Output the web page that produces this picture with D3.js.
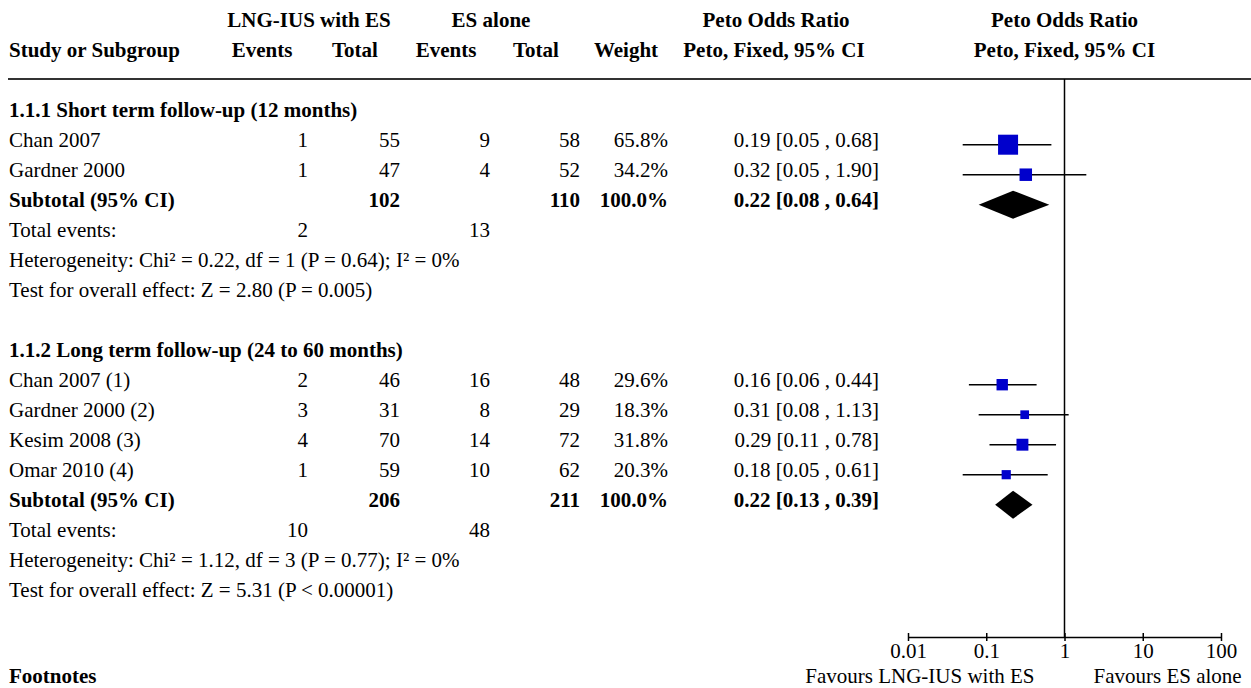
<!DOCTYPE html>
<html>
<head>
<meta charset="utf-8">
<script src="https://cdn.jsdelivr.net/npm/d3@7"></script>
<style>
  body { margin: 0; background: #fff; }
  svg text { font-family: "Liberation Serif", "Times New Roman", serif; font-size: 21px; fill: #000; }
  .b { font-weight: bold; }
</style>
</head>
<body>
<div id="chart"></div>
<script>
const width = 1251;
const height = 688;

const groupTitles = ["1.1.1 Short term follow-up (12 months)", "1.1.2 Long term follow-up (24 to 60 months)"];
const studyNames = [["Chan 2007", "Gardner 2000"], ["Chan 2007 (1)", "Gardner 2000 (2)", "Kesim 2008 (3)", "Omar 2010 (4)"]];
const lngEvents = [[1, 1], [2, 3, 4, 1]];
const lngTotal = [[55, 47], [46, 31, 70, 59]];
const esEvents = [[9, 4], [16, 8, 14, 10]];
const esTotal = [[58, 52], [48, 29, 72, 62]];
const weights = [[65.8, 34.2], [29.6, 18.3, 31.8, 20.3]];
const oddsRatio = [[0.19, 0.32], [0.16, 0.31, 0.29, 0.18]];
const ciLow = [[0.05, 0.05], [0.06, 0.08, 0.11, 0.05]];
const ciHigh = [[0.68, 1.90], [0.44, 1.13, 0.78, 0.61]];
const subLngTotal = [102, 206];
const subEsTotal = [110, 211];
const subOR = [0.22, 0.22];
const subLow = [0.08, 0.13];
const subHigh = [0.64, 0.39];
const totalLngEvents = [2, 10];
const totalEsEvents = [13, 48];
const heterogeneity = ["Heterogeneity: Chi² = 0.22, df = 1 (P = 0.64); I² = 0%", "Heterogeneity: Chi² = 1.12, df = 3 (P = 0.77); I² = 0%"];
const overallEffect = ["Test for overall effect: Z = 2.80 (P = 0.005)", "Test for overall effect: Z = 5.31 (P < 0.00001)"];
const axisTicks = [0.01, 0.1, 1, 10, 100];

const svg = d3.select("#chart").append("svg")
    .attr("width", width)
    .attr("height", height);

const x = d3.scaleLog().domain([0.01, 100]).range([908, 1221]);
const row = d3.scaleLinear().domain([0, 1]).range([114.7, 144.7]);
const boxSize = d3.scaleLinear().domain([0, 100]).range([4.35, 28.15]);
const axisY = 637;

// column right edges for the numbers
const col = {events1: 308, total1: 400, events2: 490, total2: 580, weight: 668, ci: 879};

function txt(s, xPos, y, anchor, bold) {
    svg.append("text")
        .attr("x", xPos)
        .attr("y", y)
        .attr("text-anchor", anchor || "start")
        .attr("class", bold ? "b" : null)
        .text(s);
}

// headers
txt("LNG-IUS with ES", 309, 27, "middle", true);
txt("ES alone", 491, 27, "middle", true);
txt("Peto Odds Ratio", 776, 27, "middle", true);
txt("Peto Odds Ratio", x(1), 27, "middle", true);
txt("Study or Subgroup", 9, 57, "start", true);
[["Events", 262], ["Total", 355], ["Events", 446], ["Total", 536], ["Weight", 626],
 ["Peto, Fixed, 95% CI", 774], ["Peto, Fixed, 95% CI", x(1)]].forEach(h => txt(h[0], h[1], 57, "middle", true));

svg.append("line")
    .attr("x1", 8).attr("x2", width)
    .attr("y1", 79).attr("y2", 79)
    .style("stroke", "#333").style("stroke-width", 2);

svg.append("line")
    .attr("x1", x(1)).attr("x2", x(1))
    .attr("y1", 79).attr("y2", axisY)
    .style("stroke", "#000").style("stroke-width", 1.5);

const fmtCI = (o, l, h) => `${o.toFixed(2)} [${l.toFixed(2)} , ${h.toFixed(2)}]`;

let r = 0;
groupTitles.forEach((title, g) => {
    txt(title, 9, row(r) + 2, "start", true);
    r++;
    studyNames[g].forEach((name, i) => {
        const y = row(r);
        const b = y + 2;
        txt(name, 9, b);
        txt(lngEvents[g][i], col.events1, b, "end");
        txt(lngTotal[g][i], col.total1, b, "end");
        txt(esEvents[g][i], col.events2, b, "end");
        txt(esTotal[g][i], col.total2, b, "end");
        txt(weights[g][i].toFixed(1) + "%", col.weight, b, "end");
        txt(fmtCI(oddsRatio[g][i], ciLow[g][i], ciHigh[g][i]), col.ci, b, "end");

        svg.append("line")
            .attr("x1", x(ciLow[g][i])).attr("x2", x(ciHigh[g][i]))
            .attr("y1", y).attr("y2", y)
            .style("stroke", "#000").style("stroke-width", 1.5);
        const s = boxSize(weights[g][i]);
        svg.append("rect")
            .attr("x", x(oddsRatio[g][i]) - s / 2)
            .attr("y", y - s / 2)
            .attr("width", s).attr("height", s)
            .style("fill", "#0000cc");
        r++;
    });

    // subtotal
    const y = row(r);
    const b = y + 2;
    txt("Subtotal (95% CI)", 9, b, "start", true);
    txt(subLngTotal[g], col.total1, b, "end", true);
    txt(subEsTotal[g], col.total2, b, "end", true);
    txt("100.0%", col.weight, b, "end", true);
    txt(fmtCI(subOR[g], subLow[g], subHigh[g]), col.ci, b, "end", true);
    svg.append("path")
        .attr("d", `M${x(subLow[g])},${y} L${x(subOR[g])},${y - 14} L${x(subHigh[g])},${y} L${x(subOR[g])},${y + 14} Z`)
        .style("fill", "#000");
    r++;

    txt("Total events:", 9, row(r) + 2);
    txt(totalLngEvents[g], col.events1, row(r) + 2, "end");
    txt(totalEsEvents[g], col.events2, row(r) + 2, "end");
    r++;
    txt(heterogeneity[g], 9, row(r) + 2);
    r++;
    txt(overallEffect[g], 9, row(r) + 2);
    r += 2;
});

// axis
const axis = d3.axisBottom(x)
    .tickValues(axisTicks)
    .tickFormat(d => String(d))
    .tickSizeOuter(0)
    .tickSizeInner(8);

const ax = svg.append("g")
    .attr("transform", `translate(0,${axisY})`)
    .call(axis);
ax.select(".domain").style("stroke", "#000").style("stroke-width", 1.5);
ax.selectAll(".tick line").attr("y1", -4).attr("y2", 4).style("stroke", "#000").style("stroke-width", 1.5);
ax.selectAll(".tick text")
    .attr("y", 20.5).attr("dy", 0)
    .style("font-family", "Liberation Serif, serif")
    .style("font-size", "21px")
    .style("fill", "#000");

txt("Favours LNG-IUS with ES", x(1) - 30, 683, "end");
txt("Favours ES alone", x(1) + 29, 683, "start");
txt("Footnotes", 9, 683, "start", true);
</script>
</body>
</html>
